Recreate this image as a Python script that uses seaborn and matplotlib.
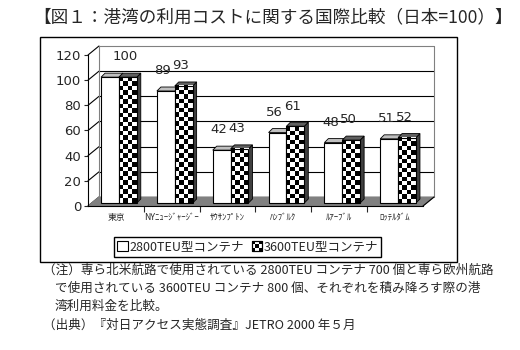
import numpy as np
import pandas as pd
import matplotlib
matplotlib.use("Agg")
import matplotlib.pyplot as plt
import seaborn as sns
from matplotlib.transforms import ScaledTranslation, IdentityTransform
from matplotlib.patches import Polygon, Rectangle, Patch
from matplotlib.lines import Line2D
from matplotlib.legend_handler import HandlerBase

# ---- data ----
ports = ["東京", "NYﾆｭｰｼﾞｬｰｼﾞｰ", "ｻｳｻﾝﾌﾟﾄﾝ", "ﾊﾝﾌﾞﾙｸ", "ﾙｱｰﾌﾞﾙ", "ﾛｯﾃﾙﾀﾞﾑ"]
series = ["2800TEU型コンテナ", "3600TEU型コンテナ"]
teu2800 = [100, 89, 42, 56, 48, 51]
teu3600 = [100, 93, 43, 61, 50, 52]
yticks = [0, 20, 40, 60, 80, 100, 120]
title = "【図１：港湾の利用コストに関する国際比較（日本=100）】"
notes = [
    "（注）専ら北米航路で使用されている 2800TEU コンテナ 700 個と専ら欧州航路",
    "で使用されている 3600TEU コンテナ 800 個、それぞれを積み降ろす際の港",
    "湾利用料金を比較。",
    "（出典）『対日アクセス実態調査』JETRO 2000 年５月",
]

sns.set_style("white")
plt.rcParams["font.family"] = ["Noto Sans CJK JP", "DejaVu Sans"]

W, H, DPI = 520, 350, 100
fig = plt.figure(figsize=(W / DPI, H / DPI), dpi=DPI)
ax = fig.add_axes([88 / W, 1 - 206 / H, 335 / W, 151 / H])
ax.set_facecolor("none")

df = pd.DataFrame({
    "port": ports * 2,
    "value": teu2800 + teu3600,
    "type": [series[0]] * len(ports) + [series[1]] * len(ports),
})
sns.barplot(data=df, x="port", y="value", hue="type", palette=["white", "white"],
            edgecolor="black", linewidth=0.8, width=0.64, gap=0, errorbar=None,
            saturation=1, legend=False, ax=ax)

ax.set_xlim(-0.5, len(ports) - 0.5)
ax.set_ylim(yticks[0], yticks[-1])
ax.set_autoscale_on(False)
ax.set_xlabel("")
ax.set_ylabel("")

ident = IdentityTransform()
front = ax.transData + ScaledTranslation(3 / DPI, 3 / DPI, fig.dpi_scale_trans)
back = ax.transData + ScaledTranslation(11 / DPI, 9 / DPI, fig.dpi_scale_trans)
d = 4
xl, xr = ax.get_xlim()

# floor
F = ax.transData.transform([(xl, 0), (xr, 0)])
B = back.transform([(xl, 0), (xr, 0)])
ax.add_patch(Polygon([F[0], F[1], B[1], B[0]], closed=True, facecolor="#808080",
                     edgecolor="#808080", lw=0.8, transform=ident, zorder=0.5, clip_on=False))
ax.add_line(Line2D([F[1][0], B[1][0]], [F[1][1], B[1][1]], color="black", lw=0.8,
                   transform=ident, zorder=0.6, clip_on=False))

# back wall and side-wall gridlines
for v in yticks:
    p0 = ax.transData.transform((xl, v))
    p1 = back.transform((xl, v))
    p2 = back.transform((xr, v))
    ax.add_line(Line2D([p0[0], p1[0]], [p0[1], p1[1]], color="black", lw=0.8,
                       transform=ident, zorder=0.4, clip_on=False))
    if 0 < v < yticks[-1]:
        ax.add_line(Line2D([p1[0], p2[0]], [p1[1], p2[1]], color="black", lw=0.8,
                           transform=ident, zorder=0.4, clip_on=False))
for xx in (xl, xr):
    a = back.transform((xx, 0)); b = back.transform((xx, yticks[-1]))
    ax.add_line(Line2D([a[0], b[0]], [a[1], b[1]], color="#808080", lw=0.8,
                       transform=ident, zorder=0.4, clip_on=False))
a = back.transform((xl, yticks[-1])); b = back.transform((xr, yticks[-1]))
ax.add_line(Line2D([a[0], b[0]], [a[1], b[1]], color="#808080", lw=0.8,
                   transform=ident, zorder=0.4, clip_on=False))

# 3D bars
for k, cont in enumerate(ax.containers):
    for bar in cont:
        bar.set_transform(front)
        x0, w, h = bar.get_x(), bar.get_width(), bar.get_height()
        (X0, Y0), (X1, Y1) = front.transform([(x0, 0), (x0 + w, h)])
        zb = 2 + k
        side = Polygon([(X1, Y0), (X1 + d, Y0 + d), (X1 + d, Y1 + d), (X1, Y1)],
                       closed=True, transform=ident, lw=0.6, edgecolor="black",
                       facecolor="#808080" if k == 0 else "#404040", zorder=zb, clip_on=False)
        top = Polygon([(X0, Y1), (X1, Y1), (X1 + d, Y1 + d), (X0 + d, Y1 + d)],
                      closed=True, transform=ident, lw=0.6, edgecolor="black",
                      facecolor="#c0c0c0" if k == 0 else "#606060", zorder=zb, clip_on=False)
        ax.add_patch(side)
        ax.add_patch(top)
        bar.set_zorder(zb + 0.3)
        if k == 1:
            bar.set_facecolor("none")
            nc = max(1, int(round((X1 - X0) / 4.5)))
            nr = max(1, int(round((Y1 - Y0) / 4.5)))
            arr = np.add.outer(np.arange(nr), np.arange(nc)) % 2
            ax.imshow(arr, cmap="gray", vmin=0, vmax=1, extent=(x0, x0 + w, 0, h),
                      transform=front, aspect="auto", interpolation="nearest",
                      zorder=zb + 0.2, clip_on=False)

# value labels (equal values overlap into one label in the original)
lab1 = ["" if a == b else str(a) for a, b in zip(teu2800, teu3600)]
lab2 = [str(b) for b in teu3600]
for cont, labs in zip(ax.containers, (lab1, lab2)):
    ax.bar_label(cont, labels=labs, padding=12, fontsize=9.5, family=["DejaVu Sans"])

# axes styling
for s in ("top", "right"):
    ax.spines[s].set_visible(False)
for s in ("left", "bottom"):
    ax.spines[s].set_color("black")
    ax.spines[s].set_linewidth(0.8)
    ax.spines[s].set_zorder(1)
ax.set_yticks(yticks)
ax.tick_params(axis="y", length=3, width=0.8, direction="out", left=True, labelsize=9.5, pad=2)
ax.set_yticklabels([str(v) for v in yticks], family=["DejaVu Sans"])
ax.set_xticks(range(len(ports)))
ax.set_xticklabels(ports, fontsize=6.3)
ax.set_xticks(np.arange(0.5, len(ports) - 1, 1), minor=True)
ax.tick_params(axis="x", which="major", length=0, pad=5)
ax.tick_params(axis="x", which="minor", length=4, width=0.8, direction="out", bottom=True)

# legend
class BoxHandler(HandlerBase):
    def __init__(self, checker):
        super().__init__()
        self.checker = checker

    def create_artists(self, legend, orig_handle, xdescent, ydescent, width, height, fontsize, trans):
        s = min(width, height)
        x0 = -xdescent + (width - s) / 2
        y0 = -ydescent + (height - s) / 2
        arts = [Rectangle((x0, y0), s, s, facecolor="white", edgecolor="black", lw=0.8, transform=trans)]
        if self.checker:
            n = 3
            c = s / n
            for i in range(n):
                for j in range(n):
                    if (i + j) % 2 == 0:
                        arts.append(Rectangle((x0 + i * c, y0 + j * c), c, c, facecolor="black",
                                              edgecolor="none", transform=trans))
            arts.append(Rectangle((x0, y0), s, s, facecolor="none", edgecolor="black", lw=0.8, transform=trans))
        return arts

h1, h2 = Patch(facecolor="white"), Patch(facecolor="black")
leg = fig.legend([h1, h2], series, loc="center", bbox_to_anchor=(247.5 / W, 1 - 247 / H),
                 ncol=2, frameon=True, fancybox=False, edgecolor="black", framealpha=1,
                 fontsize=9, handlelength=0.9, handleheight=0.9, handletextpad=0.1,
                 columnspacing=0.6, borderpad=0.25, borderaxespad=0,
                 handler_map={h1: BoxHandler(False), h2: BoxHandler(True)})
leg.get_frame().set_linewidth(1.0)

# chart frame
fig.add_artist(Rectangle((40 / W, 1 - 262 / H), 417 / W, 225 / H, transform=fig.transFigure,
                         fill=False, edgecolor="black", lw=1.0))

# title and notes
fig.text(33 / W, 1 - 17 / H, title, fontsize=12.7, va="center", ha="left")
note_x = [43, 55, 55, 43]
note_y = [270, 288, 306, 325]
for t, nx, ny in zip(notes, note_x, note_y):
    fig.text(nx / W, 1 - ny / H, t, fontsize=9.05, va="center", ha="left")

fig.savefig("out.png", dpi=DPI, facecolor="white")
